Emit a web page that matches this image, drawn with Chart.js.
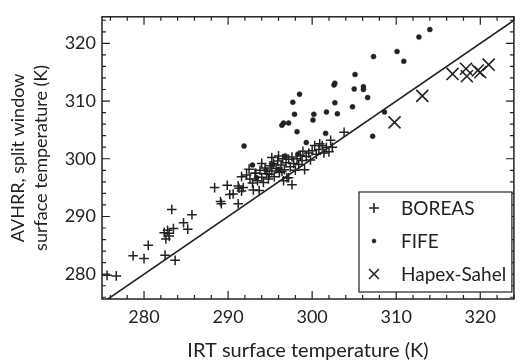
<!DOCTYPE html>
<html>
<head>
<meta charset="utf-8">
<script src="https://cdn.jsdelivr.net/npm/chart.js@4/dist/chart.umd.min.js"></script>
<style>
html,body{margin:0;padding:0;background:#fff;}
#wrap{width:524px;height:364px;}
</style>
</head>
<body>
<div id="wrap"><canvas id="c" width="524" height="364"></canvas></div>
<script>
// ---- data ----
const xTickValues = [280, 290, 300, 310, 320];
const yTickValues = [280, 290, 300, 310, 320];
const xTitle = "IRT surface temperature (K)";
const yTitle = ["AVHRR, split window", "surface temperature (K)"];
const seriesNames = ["BOREAS", "FIFE", "Hapex-Sahel"];

const boreasX = [275.6,276.7,278.7,280.0,280.5,282.5,283.7,282.4,282.8,283.0,282.6,283.0,283.3,283.5,284.7,285.2,285.7,288.4,289.1,289.2,289.9,290.2,290.6,291.3,291.6,291.2,291.8,291.6,291.2,292.2,292.6,292.9,293.0,293.2,293.3,293.5,293.8,294.0,294.2,294.4,294.6,294.8,295.0,295.2,295.4,295.5,295.7,295.9,296.1,296.3,296.4,296.5,296.7,296.9,297.0,297.2,297.4,297.6,297.6,297.8,298.0,298.2,298.4,298.6,298.8,299.1,299.3,299.6,299.8,300.0,300.3,300.5,300.8,301.2,301.4,301.7,302.0,302.2,302.4,303.8,297.2,293.7,292.5,294.0,295.2,296.0,294.9,296.6,298.9,300.9];
const boreasY = [279.8,279.7,283.2,282.7,285.0,283.3,282.4,287.2,287.6,287.1,286.1,286.6,291.2,287.9,288.9,287.8,290.3,295.0,292.6,292.2,295.4,293.8,293.9,294.9,294.4,292.2,295.0,296.9,295.3,297.2,296.5,295.8,294.6,297.5,297.5,296.2,298.0,296.8,295.9,298.4,297.4,296.5,298.8,297.9,299.2,296.9,298.3,299.6,297.6,298.9,297.8,300.0,298.1,299.3,296.7,299.9,298.6,300.3,295.5,299.2,298.0,300.0,299.0,300.6,299.7,298.1,300.4,301.0,299.8,301.4,302.3,300.8,301.6,302.3,301.0,302.0,301.2,303.2,302.0,304.6,296.7,294.5,298.2,299.2,300.2,300.5,297.3,296.2,301.3,302.6];

const fifeX = [314.0,312.7,310.1,310.9,307.3,305.1,302.7,302.6,305.0,306.1,306.1,306.6,298.5,297.7,302.7,304.8,297.9,300.2,301.7,303.0,300.1,296.6,296.4,297.2,298.2,301.6,308.6,307.2,299.3,291.9,292.9,293.4,294.5,295.3,296.0,296.8,298.3];
const fifeY = [322.4,321.1,318.6,316.9,317.7,314.6,313.1,312.8,312.1,312.5,312.0,310.6,311.2,309.8,309.7,309.0,307.7,307.7,308.1,307.8,306.7,306.2,305.8,306.2,304.7,304.4,308.1,303.9,302.8,302.2,298.9,296.7,298.0,299.0,298.2,300.5,300.8];

const hapexX = [309.8,313.1,316.7,318.3,318.4,319.7,320.0,321.0];
const hapexY = [306.3,310.9,314.7,315.6,314.3,315.3,315.0,316.3];

const oneToOne = [275, 325];

const axisMin = {x: 275, y: 275.7};
const axisMax = {x: 324, y: 324.6};

// ---- build ----
const pts = (xs, ys) => xs.map((v, i) => ({x: v, y: ys[i]}));
const INK = '#222';
const FONT = 'Lato, "Open Sans", sans-serif';

const frameAndTicks = {
  id: 'frameAndTicks',
  afterDatasetsDraw(chart) {
    const {ctx, chartArea: a, scales: {x, y}} = chart;
    ctx.save();
    ctx.strokeStyle = INK;
    ctx.lineWidth = 1.5;
    ctx.strokeRect(a.left, a.top, a.right - a.left, a.bottom - a.top);
    ctx.lineWidth = 1.2;
    ctx.beginPath();
    for (let v = 276; v <= 324; v += 2) {
      const len = v % 10 === 0 ? 8 : 4;
      if (v >= x.min && v <= x.max) {
        const px = x.getPixelForValue(v);
        ctx.moveTo(px, a.bottom); ctx.lineTo(px, a.bottom - len);
        ctx.moveTo(px, a.top); ctx.lineTo(px, a.top + len);
      }
      if (v >= y.min && v <= y.max) {
        const py = y.getPixelForValue(v);
        ctx.moveTo(a.left, py); ctx.lineTo(a.left + len, py);
        ctx.moveTo(a.right, py); ctx.lineTo(a.right - len, py);
      }
    }
    ctx.stroke();

    // legend box (inside plot, lower right)
    const bx = 359, by = 192, bw = a.right - 2 - 359, bh = 100;
    ctx.fillStyle = '#fff';
    ctx.fillRect(bx, by, bw, bh);
    ctx.lineWidth = 1.2;
    ctx.strokeRect(bx, by, bw, bh);
    ctx.font = '19px ' + FONT;
    ctx.fillStyle = INK;
    ctx.textBaseline = 'middle';
    const legendRadius = [5, 2, 7];
    chart.data.datasets.forEach((ds, i) => {
      if (!ds.inLegend) return;
      const cy = by + 16 + i * 33;
      const cx = bx + 15;
      ctx.lineWidth = ds.borderWidth || 1;
      ctx.strokeStyle = INK;
      ctx.fillStyle = INK;
      Chart.helpers.drawPoint(ctx, {pointStyle: ds.pointStyle, radius: legendRadius[i], borderWidth: ds.borderWidth, rotation: 0}, cx, cy);
      ctx.fillText(ds.label, bx + 42, cy + 1);
    });
    ctx.restore();
  }
};

new Chart(document.getElementById('c'), {
  type: 'scatter',
  data: {
    datasets: [
      {label: seriesNames[0], inLegend: true, data: pts(boreasX, boreasY), pointStyle: 'cross', pointRadius: 4.8, borderWidth: 1.5, borderColor: INK, backgroundColor: INK},
      {label: seriesNames[1], inLegend: true, data: pts(fifeX, fifeY), pointStyle: 'circle', pointRadius: 2.5, borderWidth: 0.5, borderColor: INK, backgroundColor: INK},
      {label: seriesNames[2], inLegend: true, data: pts(hapexX, hapexY), pointStyle: 'crossRot', pointRadius: 8.5, borderWidth: 1.6, borderColor: INK, backgroundColor: INK},
      {label: '1:1', type: 'line', data: pts(oneToOne, oneToOne), borderColor: INK, borderWidth: 1.6, pointRadius: 0, showLine: true, fill: false}
    ]
  },
  options: {
    responsive: false,
    animation: false,
    devicePixelRatio: 1,
    layout: {padding: {top: 12, right: 2, left: 0, bottom: 0}},
    plugins: {legend: {display: false}, tooltip: {enabled: false}},
    scales: {
      x: {
        type: 'linear', min: axisMin.x, max: axisMax.x,
        grid: {display: false, drawTicks: false},
        border: {display: false},
        afterBuildTicks: s => { s.ticks = xTickValues.map(v => ({value: v})); },
        afterFit: s => { s.height = 65; },
        ticks: {color: INK, font: {family: FONT, size: 18}, padding: 7, maxRotation: 0},
        title: {display: true, text: xTitle, color: INK, font: {family: FONT, size: 20}, padding: {top: 0, bottom: 1}}
      },
      y: {
        type: 'linear', min: axisMin.y, max: axisMax.y,
        grid: {display: false, drawTicks: false},
        border: {display: false},
        afterBuildTicks: s => { s.ticks = yTickValues.map(v => ({value: v})); },
        afterFit: s => { s.width = 102; },
        ticks: {color: INK, font: {family: FONT, size: 18}, padding: 6},
        title: {display: true, text: yTitle, color: INK, font: {family: FONT, size: 18, lineHeight: 1.25}, padding: {top: 7, bottom: 0}}
      }
    }
  },
  plugins: [frameAndTicks]
});
</script>
</body>
</html>
